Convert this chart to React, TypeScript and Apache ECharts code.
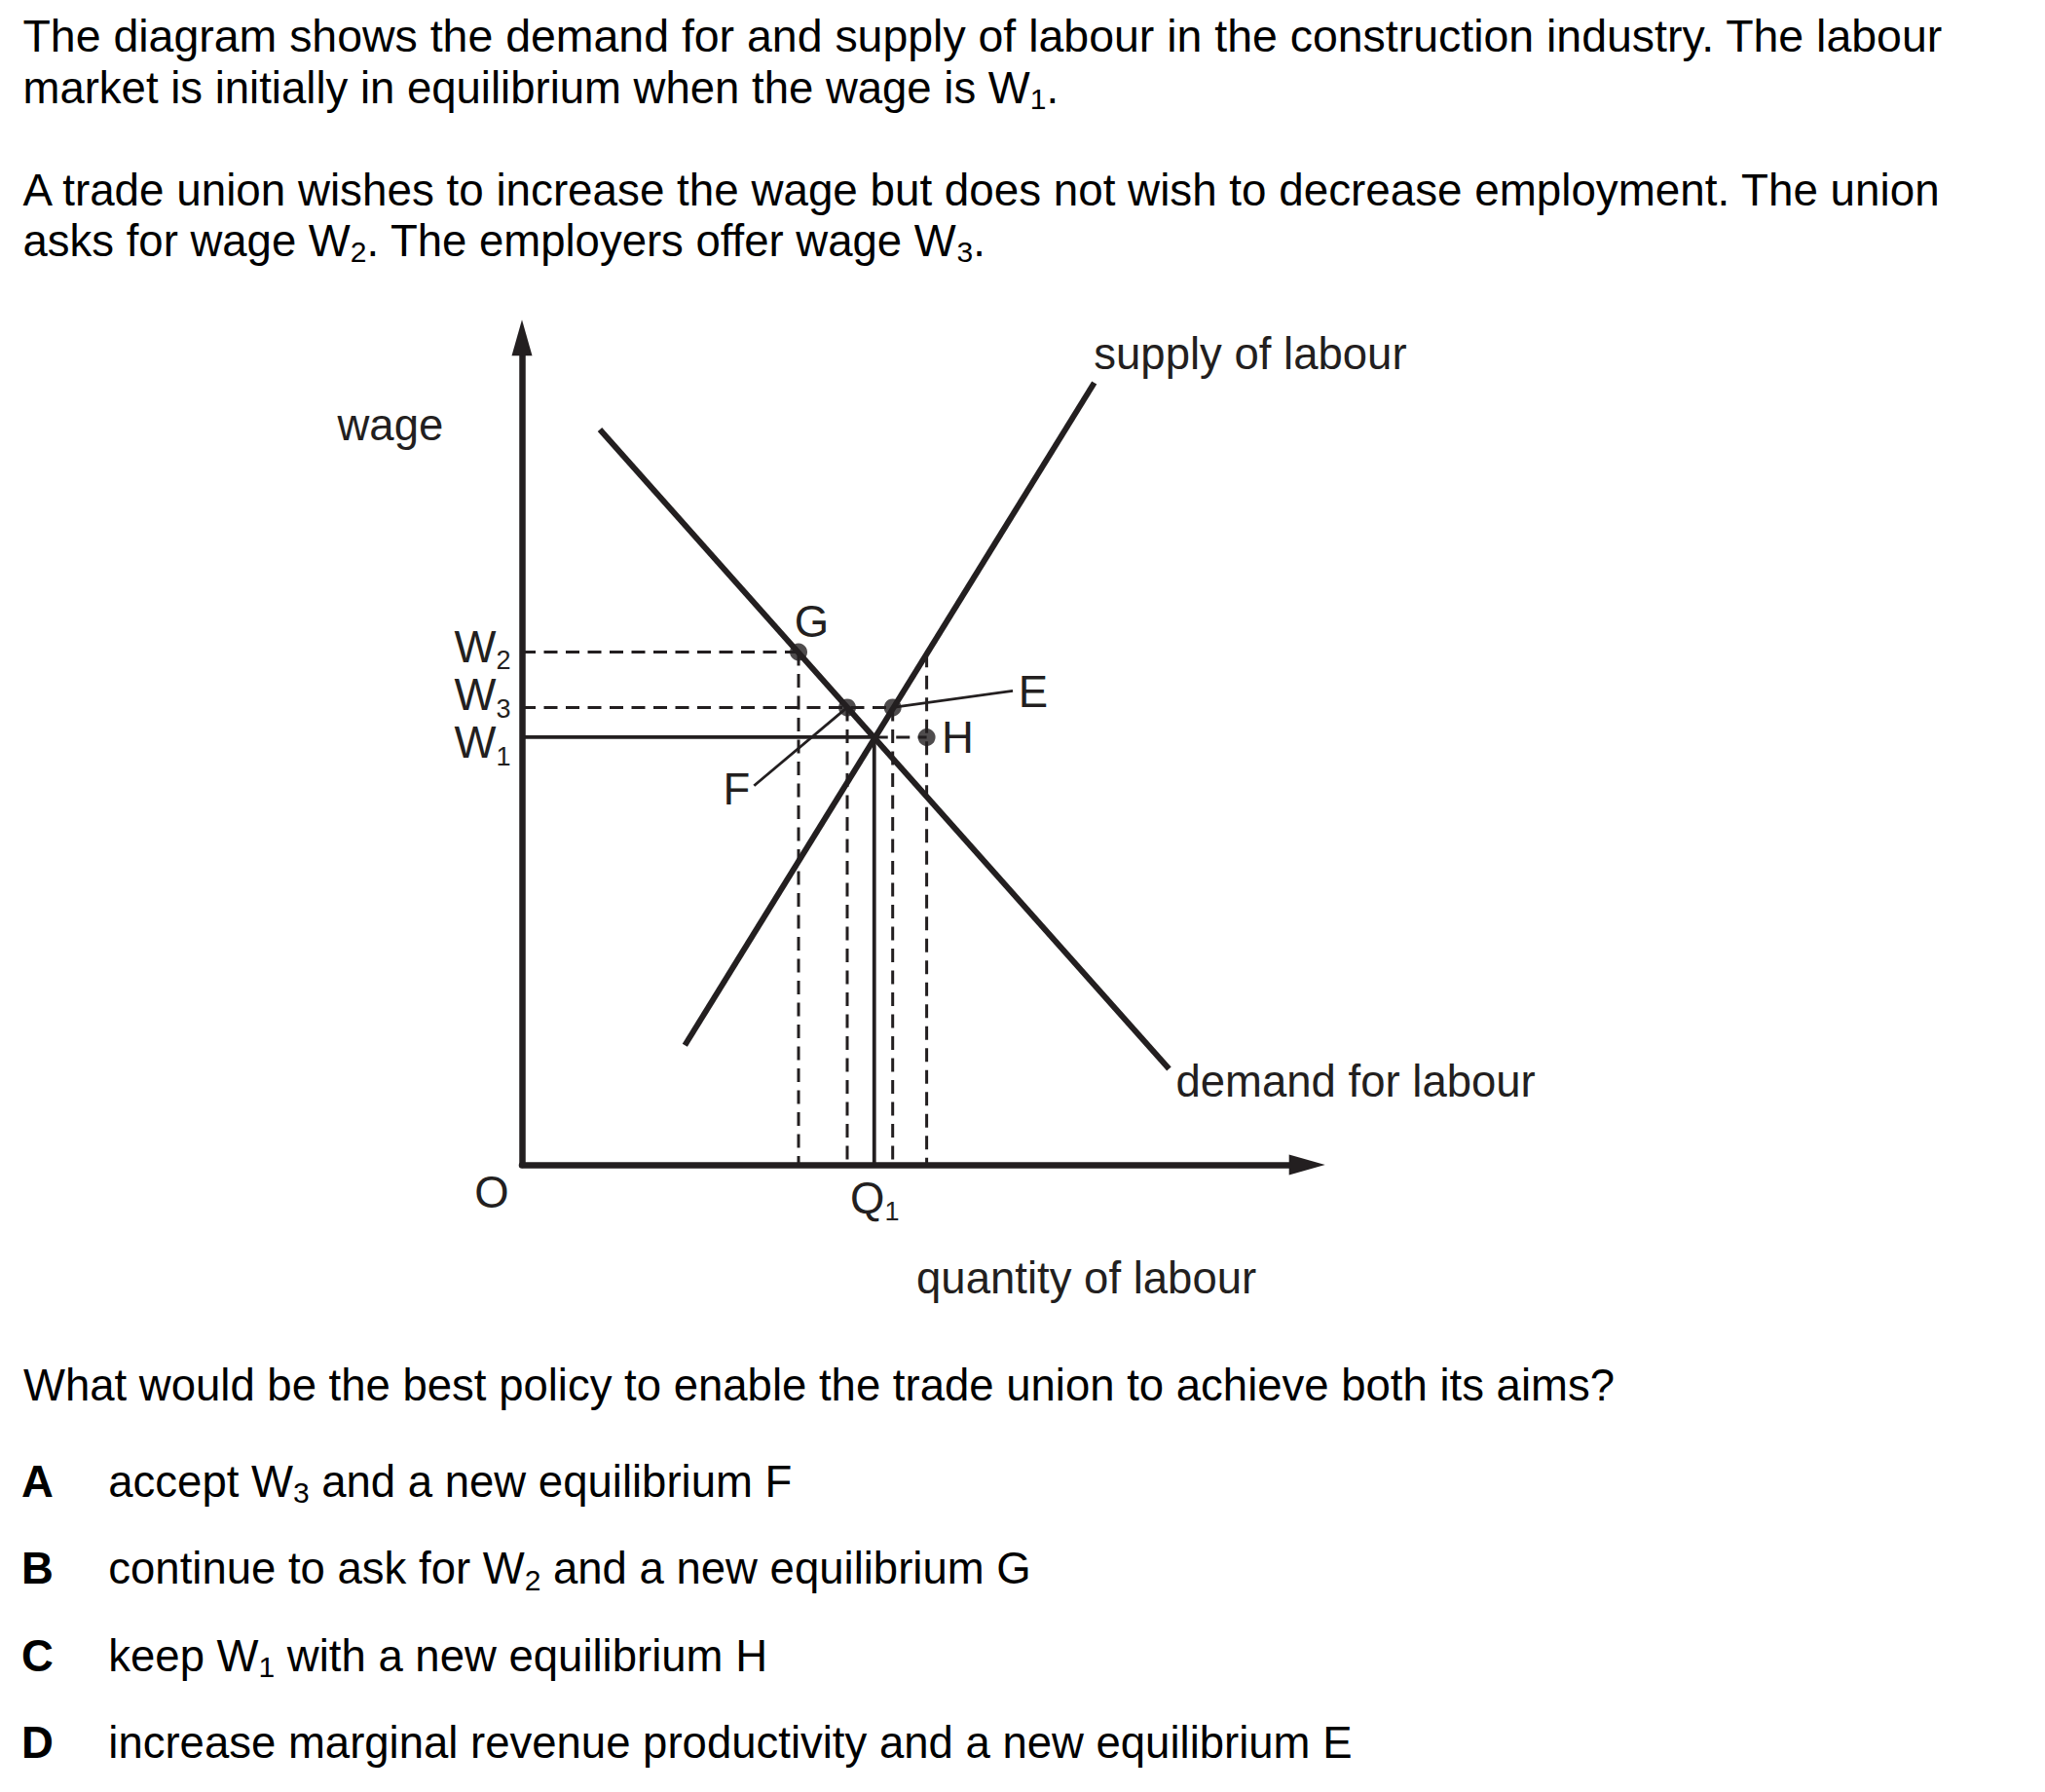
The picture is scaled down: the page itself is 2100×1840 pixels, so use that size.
import React, { useEffect, useRef } from 'react';
import * as echarts from 'echarts';

// ---------- data (quantity of labour on x, wage on y; both axes run 0..100) ----------
const demandCurve: number[][] = [[9.92, 88.91], [82.42, 11.6]];
const supplyCurve: number[][] = [[20.75, 14.45], [72.9, 94.56]];

const wageW1 = 51.7;
const wageW2 = 62.0;
const wageW3 = 55.3;

const qG = 35.23;
const qF = 41.43;
const qQ1 = 44.87;
const qE = 47.22;
const qH = 51.55;
const hDashTop = 61.8;

const pointG = [qG, wageW2];
const pointF = [qF, wageW3];
const pointE = [qE, wageW3];
const pointH = [qH, wageW1];
const leaderEEnd = [62.52, 57.31];
const leaderFEnd = [29.56, 45.84];

const questionLines = [
  'The diagram shows the demand for and supply of labour in the construction industry. The labour',
  'market is initially in equilibrium when the wage is W{s|1}.',
  'A trade union wishes to increase the wage but does not wish to decrease employment. The union',
  'asks for wage W{s|2}. The employers offer wage W{s|3}.',
];
const questionPrompt = 'What would be the best policy to enable the trade union to achieve both its aims?';
const optionLetters = ['A', 'B', 'C', 'D'];
const optionTexts = [
  'accept W{s|3} and a new equilibrium F',
  'continue to ask for W{s|2} and a new equilibrium G',
  'keep W{s|1} with a new equilibrium H',
  'increase marginal revenue productivity and a new equilibrium E',
];

// ---------- styles / layout ----------
const FONT = '"Liberation Sans", Arial, Helvetica, sans-serif';
const INK = '#231f20';
const FS = 45.5;
const CENTRAL = 0.3465 * FS; // baseline -> central offset

const questionBaselines = [52.7, 106, 211.7, 263.3];
const questionStretch = [1.021, 1, 1.006, 1];
const promptBaseline = 1438.3;
const optionBaselines = [1537.3, 1626.7, 1716, 1805.5];

const qRich = {
  s: { fontSize: 30, height: 29.3, verticalAlign: 'bottom', fontFamily: FONT, fill: '#000' },
};

function qText(x: number, baseline: number, text: string, bold = false, stretch = 1) {
  return {
    type: 'text',
    x,
    y: baseline - CENTRAL,
    scaleX: stretch,
    silent: true,
    style: {
      text,
      fontSize: FS,
      fontFamily: FONT,
      fontWeight: bold ? 'bold' : 'normal',
      fill: '#000',
      align: 'left',
      verticalAlign: 'middle',
      lineHeight: 52,
      rich: qRich,
    },
  };
}

function cText(x: number, baseline: number, text: string, align = 'left') {
  return {
    type: 'text',
    x,
    y: baseline - CENTRAL,
    silent: true,
    style: {
      text,
      fontSize: FS,
      fontFamily: FONT,
      fill: INK,
      align,
      verticalAlign: 'middle',
    },
  };
}

const solidSeg = (data: number[][], width: number) => ({
  type: 'line',
  data,
  symbol: 'none',
  silent: true,
  clip: false,
  lineStyle: { color: INK, width, type: 'solid', cap: 'butt' },
  z: 3,
});

const dashedSeg = (data: number[][]) => ({
  type: 'line',
  data,
  symbol: 'none',
  silent: true,
  clip: false,
  lineStyle: { color: INK, width: 3, type: [14, 8.5] },
  z: 2,
});

const labelSpecs = [
  { value: pointG, text: 'G', align: 'left', offset: [-4.2, -31.1] },
  { value: leaderEEnd, text: 'E', align: 'left', offset: [5.7, 0.9] },
  { value: pointH, text: 'H', align: 'left', offset: [15.4, 0.9] },
  { value: leaderFEnd, text: 'F', align: 'left', offset: [-31.9, 4.2] },
  { value: [0, wageW2], text: 'W{s|2}', align: 'right', offset: [-11.5, -5.1] },
  { value: [0, wageW3], text: 'W{s|3}', align: 'right', offset: [-11.5, -12.5] },
  { value: [0, wageW1], text: 'W{s|1}', align: 'right', offset: [-11.5, 5.9] },
  { value: [0, 0], text: 'O', align: 'center', offset: [-31, 28.7] },
  { value: [qQ1, 0], text: 'Q{s|1}', align: 'center', offset: [0.5, 34.2] },
  { value: supplyCurve[1], text: 'supply of labour', align: 'left', offset: [-0.4, -29.8] },
  { value: demandCurve[1], text: 'demand for labour', align: 'left', offset: [7, 12.7] },
];

function buildOption() {
  const graphics: any[] = [];
  questionLines.forEach((t, i) =>
    graphics.push(qText(23.5, questionBaselines[i], t, false, questionStretch[i]))
  );
  graphics.push(qText(24, promptBaseline, questionPrompt));
  optionLetters.forEach((l, i) => {
    graphics.push(qText(22, optionBaselines[i], l, true));
    graphics.push(qText(111.3, optionBaselines[i], optionTexts[i]));
  });
  graphics.push(cText(346.5, 452, 'wage'));
  graphics.push(cText(1115.6, 1328, 'quantity of labour', 'center'));

  const axisCommon = {
    type: 'value',
    min: 0,
    max: 100,
    axisLine: {
      show: true,
      onZero: false,
      symbol: ['none', 'triangle'],
      symbolSize: [21, 37],
      lineStyle: { color: INK, width: 6.5 },
    },
    axisTick: { show: false },
    axisLabel: { show: false },
    splitLine: { show: false },
  };

  return {
    animation: false,
    backgroundColor: '#ffffff',
    grid: { left: 536, right: 757.8, top: 346.8, bottom: 644, containLabel: false },
    xAxis: { ...axisCommon },
    yAxis: { ...axisCommon },
    graphic: graphics,
    series: [
      solidSeg(demandCurve, 6),
      solidSeg(supplyCurve, 6),
      dashedSeg([[0, wageW2], pointG]),
      dashedSeg([pointG, [qG, 0]]),
      dashedSeg([[0, wageW3], pointE]),
      dashedSeg([pointF, [qF, 0]]),
      dashedSeg([pointE, [qE, 0]]),
      dashedSeg([[qH, hDashTop], [qH, 0]]),
      dashedSeg([[qQ1, wageW1], pointH]),
      solidSeg([[0, wageW1], [qQ1, wageW1]], 3.8),
      solidSeg([[qQ1, wageW1], [qQ1, 0]], 3.8),
      solidSeg([pointE, leaderEEnd], 2.8),
      solidSeg([pointF, leaderFEnd], 2.8),
      {
        type: 'scatter',
        data: [pointG, pointF, pointE, pointH],
        symbol: 'circle',
        symbolSize: 18,
        silent: true,
        clip: false,
        itemStyle: { color: INK },
        z: 5,
      },
      {
        type: 'scatter',
        silent: true,
        clip: false,
        symbol: 'circle',
        symbolSize: 0,
        itemStyle: { color: INK, opacity: 1 },
        z: 6,
        label: {
          show: true,
          position: [0, 0],
          distance: 0,
          verticalAlign: 'middle',
          color: INK,
          opacity: 1,
          textBorderWidth: 0,
          fontFamily: FONT,
          fontSize: FS,
          lineHeight: 50,
          formatter: (p: any) => p.name,
          rich: {
            s: { fontSize: 27, height: 22.5, verticalAlign: 'bottom', fontFamily: FONT, color: INK },
          },
        },
        data: labelSpecs.map((d) => ({
          name: d.text,
          value: d.value,
          label: { align: d.align, offset: d.offset },
        })),
      },
    ],
  };
}

export default function App() {
  const ref = useRef<HTMLDivElement>(null);
  useEffect(() => {
    if (!ref.current) return;
    const chart = echarts.init(ref.current, null, { renderer: 'svg' });
    chart.setOption(buildOption() as any);
    return () => chart.dispose();
  }, []);
  return (
    <div
      ref={ref}
      style={{ position: 'absolute', left: 0, top: 0, width: 2100, height: 1840, background: '#fff' }}
    />
  );
}
